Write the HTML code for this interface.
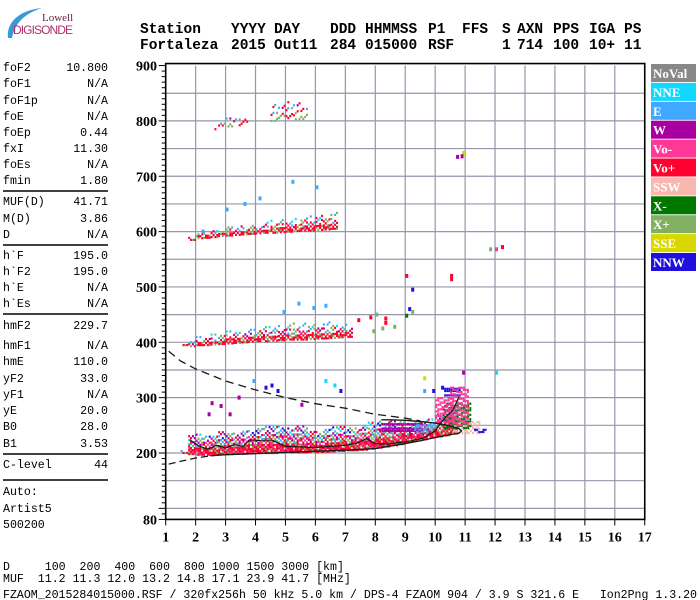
<!DOCTYPE html>
<html><head><meta charset="utf-8"><title>Ionogram Fortaleza</title>
<style>
html,body{margin:0;padding:0;background:#fff;}
svg{display:block;}
svg text{white-space:pre;}
.mono{font-family:"Liberation Mono",monospace;}
</style></head>
<body>
<svg id="chart" width="700" height="600" viewBox="0 0 700 600" xmlns="http://www.w3.org/2000/svg" xml:space="preserve">
  <rect x="0" y="0" width="700" height="600" fill="#fff"/>
  <g>
    <path d="M8,38 C6,22 20,10 42,8 C26,13 15,22 12,38 Z" fill="#3a9ad8"/>
    <text x="42" y="21" font-family="Liberation Serif,serif" font-size="11" fill="#6a2040">Lowell</text>
    <text x="13" y="34" font-family="Liberation Sans,sans-serif" font-size="12" fill="#b0306a" textLength="60">DIGISONDE</text>
  </g>
  <g id="header" class="mono" font-size="14.5" font-weight="bold" fill="#000"></g>
  <g id="left" class="mono" font-size="11.6" fill="#000"></g>
  <g id="grid"></g>
  <g id="marks"></g>
  <g id="curves"></g>
  <g id="axes"></g>
  <g id="legend"></g>
  <g id="footer" class="mono" font-size="11.6" fill="#000"></g>
</svg>
<script>
// ---------------- data ----------------
const xTicks = [1,2,3,4,5,6,7,8,9,10,11,12,13,14,15,16,17];
const yTicks = [900,800,700,600,500,400,300,200,80];
const legendLabels = ["NoVal","NNE","E","W","Vo-","Vo+","SSW","X-","X+","SSE","NNW"];
const legendColors = ["#888888","#10d8ff","#40a8ff","#a800a0","#ff3898","#ff0030","#f8b8b0","#007800","#80b060","#d8d800","#2010e0"];

// first hop echo band (MHz, lower km, upper km)
const hop1Freq = [1.5,1.75,2,2.25,2.5,2.75,3,3.25,3.5,3.75,4,4.25,4.5,4.75,5,5.25,5.5,5.75,6,6.25,6.5,6.75,7,7.25,7.5,7.75,8,8.25,8.5,8.75,9,9.25,9.5,9.75,10,10.25,10.5];
const hop1Low  = [200,198,197,197,197,198,198,199,199,200,200,200,200,201,201,201,201,202,202,202,203,204,205,205,206,208,210,212,214,216,220,222,225,228,230,232,235];
const hop1High = [204,232,235,232,235,238,240,238,240,242,245,250,248,250,245,248,250,245,240,245,248,250,245,248,250,255,258,258,258,258,255,258,260,262,270,280,290];
// second hop
const hop2Freq = [1.5,1.75,2,2.25,2.5,2.75,3,3.25,3.5,3.75,4,4.25,4.5,4.75,5,5.25,5.5,5.75,6,6.25,6.5,6.75,7];
const hop2Low  = [395,393,395,395,396,397,398,399,400,401,402,402,403,404,405,405,405,406,407,407,408,409,410];
const hop2High = [400,402,410,412,415,418,420,422,425,426,428,429,430,432,433,434,435,435,435,436,438,436,432];
// third hop
const hop3Freq = [1.75,2,2.25,2.5,2.75,3,3.25,3.5,3.75,4,4.25,4.5,4.75,5,5.25,5.5,5.75,6,6.25,6.5];
const hop3Low  = [585,588,589,590,592,593,594,595,596,597,598,598,599,600,601,602,602,603,604,605];
const hop3High = [595,600,602,605,607,610,611,612,613,615,617,620,622,625,626,628,629,630,632,635];
// fourth hop (sparse)
const hop4Freq = [2.5,2.75,3,3.25,3.5,4.5,4.75,5,5.25,5.5];
const hop4Low  = [785,788,790,792,795,800,802,805,803,800];
const hop4High = [795,800,805,808,810,830,832,835,832,830];

// rectangular echo blocks: fLo, fHi, hLo, hHi, legend index
const blkFLo = [10.6,10.3,10.3,10.5,8.2,9.3,10.0,11.3];
const blkFHi = [11.5,11.2,10.8,11.1,9.6,9.9,10.6,11.7];
const blkHLo = [236,245,300,250,240,238,255,238];
const blkHHi = [256,290,316,320,256,250,300,244];
const blkCol = [6,7,10,4,3,2,4,10];

// isolated echoes
const scF = [10.9,10.85,10.7,11.8,12.0,12.2,10.5,10.5,9.1,9.2,4.3,4.5,4.7,6.3,6.6,6.8,2.5,2.8,3.1,3.4,5.5,9.6,9.9,10.2,8.2,8.6,7.9,8.3,2.2,3.0,3.6,4.1,6.0,5.2,12.0,10.9,9.6,9.0,7.4,7.8,8.0,8.3,9.0,9.2,4.9,5.9,6.3,5.4,3.9,2.4];
const scH = [742,736,735,568,568,572,520,514,460,495,318,322,312,330,322,312,290,285,270,300,287,312,312,318,425,428,420,435,600,640,650,660,680,690,345,345,335,520,440,445,450,443,448,455,455,462,466,470,330,270];
const scC = [9,3,3,8,4,5,5,5,10,10,10,10,10,1,1,10,3,3,3,3,3,2,10,10,8,8,8,5,2,2,2,2,2,2,1,3,9,5,5,5,8,5,7,8,2,2,2,2,2,3];

// curves
const lowDashF = [1.1,1.5,2,2.5];
const lowDashH = [180,185,191,195];
const solidF = [2.5,3,4,5,6,7,8,9,9.5,10,10.5,10.8,10.88,10.8,10.5,10,9.5,9,8.5,8.2];
const solidH = [195,197,199,201,203,205,208,217,222,228,233,236,240,244,249,254,257,259,260,260];
const upDashF = [1.1,1.5,2,3,4,5,6,7,8,9,9.5];
const upDashH = [384,366,352,330,314,300,289,281,270,263,258];
const jagF = [1.8,2.1,2.4,2.7,3.0,3.3,3.6,3.8,4.2,4.6,5.0,5.5,6.0,6.5,7.0,7.4,7.7,8.0,8.4,8.8,9.2,9.6,10.0,10.3,10.6,10.8];
const jagH = [224,213,207,214,209,215,212,224,222,222,212,211,210,212,214,218,226,217,216,219,222,227,240,262,278,302];

// ---------------- scales ----------------
const X0=165.7, XS=29.94, Y0=453, YS=0.5535;
const fx = f => X0 + (f-1)*XS;
const hy = h => Y0 - (h-200)*YS;
const NS="http://www.w3.org/2000/svg";
function mk(tag, attrs, parent){
  const e=document.createElementNS(NS,tag);
  for(const k in attrs) e.setAttribute(k,attrs[k]);
  parent.appendChild(e); return e;
}
function txt(parent,x,y,s,anchor){
  const t=mk('text',{x:x,y:y},parent);
  if(anchor) t.setAttribute('text-anchor',anchor);
  t.textContent=s; return t;
}

// ---------------- header ----------------
const hdr=document.getElementById('header');
const h1=[["Station",140],["YYYY",231],["DAY",274],["DDD",330],["HHMMSS",365],["P1",428],["FFS",462],["S",502],["AXN",517],["PPS",553],["IGA",589],["PS",624]];
const h2=[["Fortaleza",140],["2015",231],["Out11",274],["284",330],["015000",365],["RSF",428],["1",502],["714",517],["100",553],["10+",589],["11",624]];
h1.forEach(p=>{const t=txt(hdr,p[1],33,p[0]);

});
h2.forEach(p=>{const t=txt(hdr,p[1],49,p[0]);

});

// ---------------- left panel ----------------
const lp=document.getElementById('left');
const rows=[["foF2","10.800",71],["foF1","N/A",87],["foF1p","N/A",104],["foE","N/A",120],["foEp","0.44",136],["fxI","11.30",152],["foEs","N/A",168],["fmin","1.80",184],
["MUF(D)","41.71",205],["M(D)","3.86",222],["D","N/A",238],
["h`F","195.0",259],["h`F2","195.0",275],["h`E","N/A",291],["h`Es","N/A",307],
["hmF2","229.7",329],["hmF1","N/A",349],["hmE","110.0",365],["yF2","33.0",382],["yF1","N/A",398],["yE","20.0",414],["B0","28.0",430],["B1","3.53",447],
["C-level","44",468]];
rows.forEach(r=>{
  const a=txt(lp,3,r[2],r[0]);
  
  
  const b=txt(lp,108,r[2],r[1],'end');
  
  
});
[["Auto:",495],["Artist5",512],["500200",528]].forEach(r=>{
  const a=txt(lp,3,r[1],r[0]);
  
  
});
[191,245,314,454,480].forEach(y=>{
  const l=mk('line',{x1:3,x2:108,y1:y,y2:y,stroke:'#000','stroke-width':1.5},lp);
  
  
});

// ---------------- grid ----------------
const gr=document.getElementById('grid');
for(let f=2;f<=16;f++){
  const l=mk('line',{x1:fx(f),x2:fx(f),y1:hy(900),y2:hy(80),stroke:'#9498aa','stroke-width':1.2},gr);
  
  
}
for(let h=100;h<=850;h+=50){
  const l=mk('line',{x1:fx(1),x2:fx(17),y1:hy(h),y2:hy(h),stroke:'#9498aa','stroke-width':1.2},gr);
  
  
}

// ---------------- echo marks ----------------
const mg=document.getElementById('marks');
function dot(f,h,ci,w,hh,name){
  const r=mk('rect',{x:(fx(f)).toFixed(1),y:(hy(h)-hh/2).toFixed(1),width:w,height:hh,fill:legendColors[ci]},mg);
  
  
}
function band(F,L,H,palLow,palMid,palHigh,skip,name){
  for(let i=0;i<F.length;i++){
    for(let k=0;k<4;k++){
      const f=F[i]+k*0.0625;
      let j=0;
      for(let h=L[i];h<=H[i];h+=3.6,j++){
        const fr=(H[i]-L[i])>0?(h-L[i])/(H[i]-L[i]):0;
        const s=(i*13+j*7+k*5)%11;
        let pal=fr<0.35?palLow:(fr<0.7?palMid:palHigh);
        const sk=fr<0.35?skip[0]:(fr<0.7?skip[1]:skip[2]);
        if(s<sk) continue;
        dot(f,h,pal[(i+j+k)%pal.length],2,2.2,name);
      }
    }
  }
}
band(hop1Freq,hop1Low,hop1High,[5,5,8,5,4,5],[8,5,3,4,8,5,2],[3,2,1,10,5,8],[1,4,7],'echo-hop1');
band(hop2Freq,hop2Low,hop2High,[5,5,8,5],[8,5,5,2,3],[2,1,2,8],[3,7,9],'echo-hop2');
band(hop3Freq,hop3Low,hop3High,[5,5,8,5],[8,5,5,2],[2,1,8,5],[3,7,9],'echo-hop3');
band(hop4Freq,hop4Low,hop4High,[5,8],[8,2,5],[2,5,3],[8,9,9],'echo-hop4');

for(let b=0;b<blkFLo.length;b++){
  let j=0;
  for(let f=blkFLo[b];f<=blkFHi[b];f+=0.07){
    for(let h=blkHLo[b];h<=blkHHi[b];h+=4,j++){
      if((j*7+b*3)%5<2) continue;
      dot(f,h,blkCol[b],2,2.2,'echo-block');
    }
  }
}
for(let i=0;i<scF.length;i++){
  dot(scF[i],scH[i],scC[i],3,4,'echo-point');
}

// ---------------- curves ----------------
const cg=document.getElementById('curves');
function poly(F,H,dash,w,name){
  const p=mk('polyline',{points:F.map((f,i)=>fx(f).toFixed(1)+','+hy(H[i]).toFixed(1)).join(' '),fill:'none',stroke:'#1a1a1a','stroke-width':w},cg);
  if(dash) p.setAttribute('stroke-dasharray',dash);
  
  
}
poly(lowDashF,lowDashH,'7,4',1.3,'profile-extrapolation-dashed');
poly(solidF,solidH,null,1.4,'electron-density-profile');
poly(upDashF,upDashH,'8,5',1.3,'profile-topside-dashed');
poly(jagF,jagH,null,1.2,'autoscaled-trace');

// ---------------- axes ----------------
const ax=document.getElementById('axes');
const box=mk('rect',{x:fx(1),y:hy(900)-2,width:fx(17)-fx(1),height:hy(80)-hy(900)+2,fill:'none',stroke:'#000','stroke-width':1.6},ax);


for(let h=80;h<=900;h+=10){
  const major=(h%100===0)||h===80;
  const l=mk('line',{x1:fx(1)-(major?7:4),x2:fx(1),y1:hy(h),y2:hy(h),stroke:'#000','stroke-width':1},ax);
  
  
}
yTicks.forEach(h=>{
  const t=mk('text',{x:157,y:hy(h)+5,'text-anchor':'end','font-family':'Liberation Serif,serif','font-size':14,'font-weight':'bold'},ax);
  t.textContent=String(h);
  
  
});
xTicks.forEach(f=>{
  const l=mk('line',{x1:fx(f),x2:fx(f),y1:hy(80),y2:hy(80)+6,stroke:'#000','stroke-width':1},ax);
  
  
  const t=mk('text',{x:fx(f),y:hy(80)+22,'text-anchor':'middle','font-family':'Liberation Serif,serif','font-size':14,'font-weight':'bold'},ax);
  t.textContent=String(f);
  
  
});

// ---------------- legend ----------------
const lg=document.getElementById('legend');
legendLabels.forEach((s,i)=>{
  const y=64+i*18.9;
  const r=mk('rect',{x:651,y:y,width:45,height:18,fill:legendColors[i]},lg);
  
  
  const t=mk('text',{x:653,y:y+14,'font-family':'Liberation Serif,serif','font-size':13,'font-weight':'bold',fill:'#fff'},lg);
  t.textContent=s;
  
  
});

// ---------------- footer ----------------
const ft=document.getElementById('footer');
const f1=txt(ft,3,570,"D     100  200  400  600  800 1000 1500 3000 [km]");


const f2=txt(ft,3,582,"MUF  11.2 11.3 12.0 13.2 14.8 17.1 23.9 41.7 [MHz]");


const f3=txt(ft,3,598,"FZAOM_2015284015000.RSF / 320fx256h 50 kHz 5.0 km / DPS-4 FZAOM 904 / 3.9 S 321.6 E   Ion2Png 1.3.20");
f3.setAttribute('textLength','694');
f3.setAttribute('lengthAdjust','spacingAndGlyphs');


</script>
</body></html>
